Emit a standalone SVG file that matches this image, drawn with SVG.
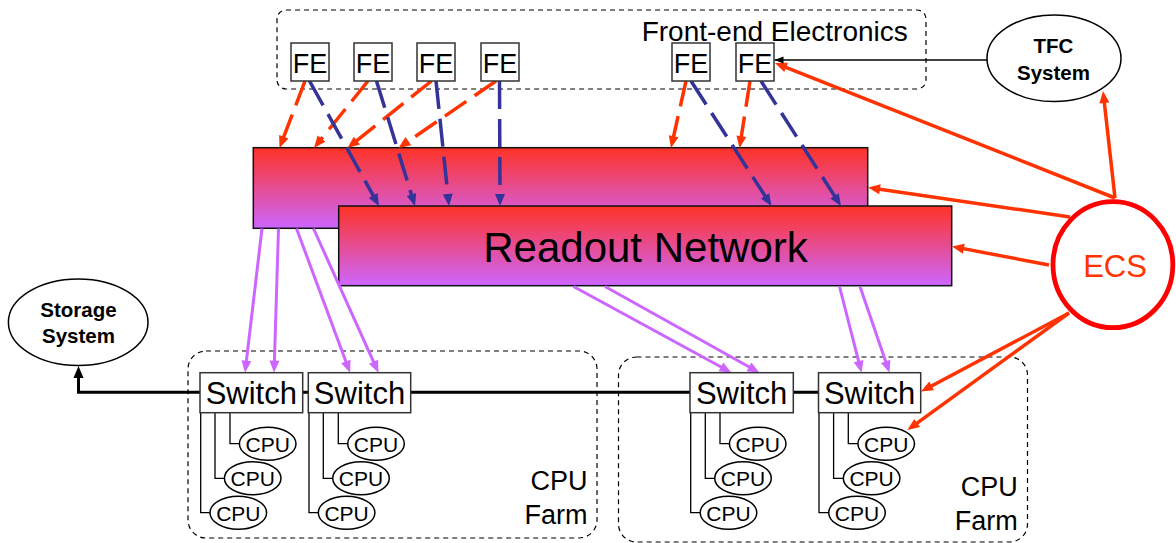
<svg xmlns="http://www.w3.org/2000/svg" width="1176" height="543" viewBox="0 0 1176 543">
<style>
text{font-family:"Liberation Sans",Arial,sans-serif;fill:#000}
.grp{fill:none;stroke:#000;stroke-width:1.2;stroke-dasharray:5 4}
.net{fill:url(#netGrad);stroke:#111;stroke-width:1.5}
.fe{fill:#fff;stroke:#333;stroke-width:1.5}
.fet{font-size:27px;text-anchor:middle}
.sw{fill:#fff;stroke:#333;stroke-width:1.5}
.swt{font-size:31px;text-anchor:middle}
.cpu{fill:#fff;stroke:#000;stroke-width:1.5}
.cput{font-size:21px;text-anchor:middle}
.link{fill:none;stroke:#000;stroke-width:1.3}
.red{stroke:#FF3300;stroke-width:3.5;fill:none;stroke-dasharray:26 10;marker-end:url(#aRed)}
.blue{stroke:#333399;stroke-width:3.5;fill:none;stroke-dasharray:28 10;marker-end:url(#aBlue)}
.pur{stroke:#CC66FF;stroke-width:3;fill:none;marker-end:url(#aPur)}
.ecs{stroke:#FF3300;stroke-width:3.5;fill:none;marker-end:url(#aRed)}
.farm{font-size:27px;text-anchor:end}
.bold{font-size:20.5px;font-weight:bold;text-anchor:middle}
</style>
<defs>
<linearGradient id="netGrad" x1="0" y1="0" x2="0" y2="1">
<stop offset="0" stop-color="#FF3326"/>
<stop offset="1" stop-color="#CC66FF"/>
</linearGradient>
<marker id="aRed" markerUnits="userSpaceOnUse" markerWidth="13" markerHeight="11" refX="7" refY="5" orient="auto" overflow="visible"><path d="M0,0 L12,5 L0,10 z" fill="#FF3300"/></marker>
<marker id="aBlue" markerUnits="userSpaceOnUse" markerWidth="13" markerHeight="11" refX="7" refY="5" orient="auto" overflow="visible"><path d="M0,0 L12,5 L0,10 z" fill="#333399"/></marker>
<marker id="aPur" markerUnits="userSpaceOnUse" markerWidth="13" markerHeight="11" refX="7" refY="5" orient="auto" overflow="visible"><path d="M0,0 L12,5 L0,10 z" fill="#CC66FF"/></marker>
<marker id="aBlk" markerUnits="userSpaceOnUse" markerWidth="10" markerHeight="8" refX="9" refY="3.5" orient="auto" overflow="visible"><path d="M0,0 L9,3.5 L0,7 z" fill="#000"/></marker>
<marker id="aBlk2" markerUnits="userSpaceOnUse" markerWidth="13" markerHeight="11" refX="7" refY="5" orient="auto" overflow="visible"><path d="M0,0 L12,5 L0,10 z" fill="#000"/></marker>
</defs>
<rect width="1176" height="543" fill="#fff"/>

<g id="frontend-group">
<rect class="grp" x="277" y="10" width="649" height="79" rx="9"/>
<text x="641.7" y="40.7" font-size="28">Front-end Electronics</text>
</g>
<g id="cpu-farm-1">
<rect class="grp" x="188" y="351" width="409" height="187" rx="18"/>
<text class="farm" x="587.5" y="490">CPU</text>
<text class="farm" x="587.5" y="524">Farm</text>
</g>
<g id="cpu-farm-2">
<rect class="grp" x="618.5" y="357" width="409" height="185" rx="18"/>
<text class="farm" x="1017.7" y="496">CPU</text>
<text class="farm" x="1017.7" y="530">Farm</text>
</g>

<g id="readout-network">
<rect class="net" x="253.3" y="147.7" width="614.4" height="80.6"/>
<rect class="net" x="338.7" y="206" width="613" height="79.7"/>
<text x="645.5" y="262" font-size="42" text-anchor="middle">Readout Network</text>
</g>

<g id="connectors">
<!-- FE to back network (red dashed) -->
<line class="red" x1="305" y1="81" x2="281.3" y2="143.3"/>
<line class="red" x1="368" y1="81" x2="317.1" y2="144.1"/>
<line class="red" x1="431.5" y1="81" x2="351.4" y2="144.9"/>
<line class="red" x1="496" y1="81" x2="402.6" y2="145.2"/>
<line class="red" x1="686" y1="81" x2="672.1" y2="143.1"/>
<line class="red" x1="750" y1="81" x2="740.3" y2="143.1"/>
<!-- FE to front network (blue dashed) -->
<line class="blue" x1="309.5" y1="81" x2="376.6" y2="201.6"/>
<line class="blue" x1="376.5" y1="81" x2="413.5" y2="201.2"/>
<line class="blue" x1="436" y1="81" x2="448.5" y2="201"/>
<line class="blue" x1="499.5" y1="81" x2="500" y2="201"/>
<line class="blue" x1="691" y1="81" x2="768.8" y2="201.8"/>
<line class="blue" x1="761" y1="81" x2="838.3" y2="201.8"/>
<!-- network to switches (purple) -->
<line class="pur" x1="262" y1="228.5" x2="245.6" y2="367.7"/>
<line class="pur" x1="278.5" y1="228.5" x2="274.2" y2="367.7"/>
<line class="pur" x1="296.5" y1="228.5" x2="348.3" y2="368"/>
<line class="pur" x1="313.5" y1="228.5" x2="376.4" y2="368.1"/>
<line class="pur" x1="573.5" y1="286.5" x2="727.1" y2="370.3"/>
<line class="pur" x1="605" y1="286.5" x2="755.1" y2="370.3"/>
<line class="pur" x1="839.5" y1="286.5" x2="860.3" y2="367.9"/>
<line class="pur" x1="860" y1="286.5" x2="887.9" y2="368"/>
<!-- ECS control -->
<line class="ecs" x1="1115" y1="198" x2="1103.6" y2="96"/>
<line class="ecs" x1="1115" y1="198" x2="779.6" y2="64.8"/>
<line class="ecs" x1="1070" y1="217" x2="873" y2="188.2"/>
<line class="ecs" x1="1049" y1="265" x2="956.9" y2="247.4"/>
<line class="ecs" x1="1069" y1="313" x2="925.4" y2="389.2"/>
<line class="ecs" x1="1069" y1="313" x2="911.5" y2="427.1"/>
<!-- TFC to FE -->
<line x1="987" y1="60" x2="774.5" y2="60" stroke="#000" stroke-width="1.5" marker-end="url(#aBlk)"/>
<!-- switch backbone to storage -->
<polyline points="818.5,392.3 78.5,392.3 78.5,371" fill="none" stroke="#000" stroke-width="3" marker-end="url(#aBlk2)"/>
<!-- switch to CPU links -->
<path class="link" d="M200.7,412.7 V512.7 H210 M215,412.7 V478.3 H224.3 M230,412.7 V443.7 H239.3"/>
<path class="link" d="M309,412.7 V512.7 H318.3 M323.3,412.7 V478.3 H332.6 M338.3,412.7 V443.7 H347.6"/>
<path class="link" d="M690.7,412.7 V512.7 H700 M705.3,412.7 V478.3 H714.6 M720,412.7 V443.7 H729.3"/>
<path class="link" d="M819,412.7 V512.7 H828.3 M833.6,412.7 V478.3 H842.9 M848.3,412.7 V443.7 H857.6"/>
</g>

<g id="fe1"><rect class="fe" x="291" y="43" width="38" height="38"/><text class="fet" x="310" y="72.5">FE</text></g>
<g id="fe2"><rect class="fe" x="354" y="43" width="38" height="38"/><text class="fet" x="373" y="72.5">FE</text></g>
<g id="fe3"><rect class="fe" x="417" y="43" width="38" height="38"/><text class="fet" x="436" y="72.5">FE</text></g>
<g id="fe4"><rect class="fe" x="481" y="43" width="38" height="38"/><text class="fet" x="500" y="72.5">FE</text></g>
<g id="fe5"><rect class="fe" x="672" y="43" width="38" height="38"/><text class="fet" x="691" y="72.5">FE</text></g>
<g id="fe6"><rect class="fe" x="736" y="43" width="38" height="38"/><text class="fet" x="755" y="72.5">FE</text></g>

<g id="tfc-system">
<ellipse cx="1054" cy="58.3" rx="67" ry="43.3" fill="#fff" stroke="#000" stroke-width="1.5"/>
<text class="bold" x="1053.5" y="53.3">TFC</text>
<text class="bold" x="1053.5" y="80">System</text>
</g>

<g id="storage-system">
<ellipse cx="78.2" cy="322.3" rx="69.8" ry="43.3" fill="#fff" stroke="#000" stroke-width="1.5"/>
<text class="bold" x="78.5" y="317.3">Storage</text>
<text class="bold" x="78.5" y="342.7">System</text>
</g>

<g id="ecs">
<ellipse cx="1112.9" cy="264.7" rx="59.9" ry="63" fill="#fff" stroke="#FF0000" stroke-width="4.8"/>
<text x="1115" y="277" font-size="31" text-anchor="middle" style="fill:#FF3300">ECS</text>
</g>

<g id="switch1"><rect class="sw" x="200" y="372.7" width="102.7" height="40"/><text class="swt" x="251.3" y="403.5">Switch</text></g>
<g id="switch2"><rect class="sw" x="308.3" y="372.7" width="102.4" height="40"/><text class="swt" x="359.5" y="403.5">Switch</text></g>
<g id="switch3"><rect class="sw" x="690" y="372.7" width="103.3" height="40"/><text class="swt" x="741.6" y="403.5">Switch</text></g>
<g id="switch4"><rect class="sw" x="818.5" y="372.7" width="102.2" height="40"/><text class="swt" x="869.6" y="403.5">Switch</text></g>

<g id="cpu-1a"><ellipse class="cpu" cx="267.7" cy="443.7" rx="28.3" ry="16.5"/><text class="cput" x="267.7" y="451.5">CPU</text></g>
<g id="cpu-1b"><ellipse class="cpu" cx="252.7" cy="478.3" rx="28.3" ry="16.5"/><text class="cput" x="252.7" y="486.1">CPU</text></g>
<g id="cpu-1c"><ellipse class="cpu" cx="238.3" cy="512.7" rx="28.3" ry="16.5"/><text class="cput" x="238.3" y="520.5">CPU</text></g>
<g id="cpu-2a"><ellipse class="cpu" cx="376" cy="443.7" rx="28.3" ry="16.5"/><text class="cput" x="376" y="451.5">CPU</text></g>
<g id="cpu-2b"><ellipse class="cpu" cx="361" cy="478.3" rx="28.3" ry="16.5"/><text class="cput" x="361" y="486.1">CPU</text></g>
<g id="cpu-2c"><ellipse class="cpu" cx="346.6" cy="512.7" rx="28.3" ry="16.5"/><text class="cput" x="346.6" y="520.5">CPU</text></g>
<g id="cpu-3a"><ellipse class="cpu" cx="757.7" cy="443.7" rx="28.3" ry="16.5"/><text class="cput" x="757.7" y="451.5">CPU</text></g>
<g id="cpu-3b"><ellipse class="cpu" cx="743" cy="478.3" rx="28.3" ry="16.5"/><text class="cput" x="743" y="486.1">CPU</text></g>
<g id="cpu-3c"><ellipse class="cpu" cx="728.5" cy="512.7" rx="28.3" ry="16.5"/><text class="cput" x="728.5" y="520.5">CPU</text></g>
<g id="cpu-4a"><ellipse class="cpu" cx="886.2" cy="443.7" rx="28.3" ry="16.5"/><text class="cput" x="886.2" y="451.5">CPU</text></g>
<g id="cpu-4b"><ellipse class="cpu" cx="871.6" cy="478.3" rx="28.3" ry="16.5"/><text class="cput" x="871.6" y="486.1">CPU</text></g>
<g id="cpu-4c"><ellipse class="cpu" cx="857" cy="512.7" rx="28.3" ry="16.5"/><text class="cput" x="857" y="520.5">CPU</text></g>
</svg>
